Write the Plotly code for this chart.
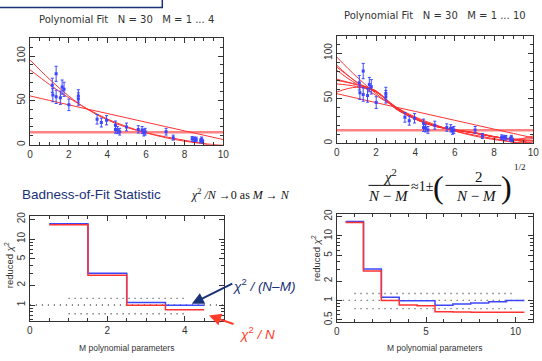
import plotly.graph_objects as go

W, H = 542, 361

# ---------------- data ----------------
x_data = [1.15, 1.18, 1.35, 1.35, 1.57, 1.66, 1.76, 2.01, 2.50, 2.50,
          3.47, 3.69, 3.96, 4.42, 4.42, 4.52, 4.64, 4.99, 5.60, 5.80,
          5.89, 5.96, 7.04, 7.41, 8.39, 8.51, 8.60, 8.83, 8.88, 8.93]
y_data = [67, 56, 80, 54, 53, 65, 62.5, 45, 55, 51.5,
          28.7, 25, 27.6, 22, 17.3, 16.5, 14.7, 20, 17.3, 16.5,
          13.6, 14.7, 14.7, 8, 6.6, 6.2, 6.0, 4.4, 6.2, 3.7]
y_err = [8, 7.5, 8.5, 7.5, 7.5, 8, 8, 6.5, 7, 7,
         5.4, 5, 5.2, 4.7, 4.2, 4, 3.8, 4.4, 4.1, 4, 3.7, 3.8, 3.8, 2.8,
         2.6, 2.5, 2.5, 2.1, 2.5, 1.9]

fit_x = [0, 1, 2, 3, 4, 5, 6, 7, 8, 9, 10]
fits_low = {  # M = 1 ... 4
    1: [14.2, 14.2, 14.2, 14.2, 14.2, 14.2, 14.2, 14.2, 14.2, 14.2, 14.2],
    2: [55, 50, 45, 40, 35.2, 30.3, 25.4, 20.5, 15.6, 10.7, 5.8],
    3: [84.5, 68, 53, 40, 29, 20.5, 13.5, 8, 4, 1.2, -0.5],
    4: [95.6, 74, 55, 39.5, 28, 19.5, 13.5, 9, 5, 1, -4],
}
fits_high = {  # M = 5 ... 10
    5: [86.6, 68, 57, 40, 27, 19, 14.5, 11, 7, 3.5, -1],
    6: [81, 66, 57, 40.5, 27, 18.5, 15, 11.5, 7, 4, 2],
    7: [71, 65, 58, 39, 27, 19, 15, 11.5, 7, 4.5, 5],
    8: [69.7, 65, 58, 38, 27, 19, 14.5, 12, 7.5, 4, 8],
    9: [65.7, 63, 57, 38.5, 27, 19, 14.5, 11.5, 7, 4.5, 3],
    10: [56.7, 62, 57, 39, 26.5, 19.5, 14.5, 11.5, 7.2, 4, 0],
}

M_left = [1, 2, 3, 4]
chi2_nm_left = [17.1, 3.04, 1.095, 0.99]
chi2_n_left = [16.5, 2.82, 0.99, 0.85]

M_right = [1, 2, 3, 4, 5, 6, 7, 8, 9, 10]
chi2_nm_right = [16.8, 3.08, 1.12, 0.99, 0.99, 0.84, 0.88, 0.91, 0.95, 1.0]
chi2_n_right = [16.2, 2.85, 1.0, 0.85, 0.83, 0.67, 0.66, 0.655, 0.655, 0.655]

band_left = {"x": [1, 4], "hi": 1.26, "lo": 0.74}
band_right = {"x": [1, 10], "hi": 1.28, "lo": 0.745}

RED = "rgb(255,50,50)"
BLUE = "rgb(60,70,255)"
NAVY = "rgb(25,50,120)"
AX = "#333333"
NB = "\u00a0"


def px(x):
    return x / W


def py(y):
    return 1 - y / H


fig = go.Figure()

# ---------------- top plots ----------------
for xa, ya, fitsets in [("x", "y", [fits_low]), ("x2", "y2", [fits_low, fits_high])]:
    for fs in fitsets:
        for m, vals in fs.items():
            if m == 1:
                line = dict(color="rgba(255,90,90,0.75)", width=2.5)
            else:
                line = dict(color=RED, width=1, shape="spline")
            fig.add_trace(go.Scatter(x=fit_x, y=vals, mode="lines", line=line,
                                     xaxis=xa, yaxis=ya, showlegend=False,
                                     hoverinfo="skip"))
    fig.add_trace(go.Scatter(x=x_data, y=y_data, mode="markers",
                             marker=dict(color=BLUE, size=3, symbol="square"),
                             error_y=dict(type="data", array=y_err, color=BLUE,
                                          thickness=1, width=1.5),
                             xaxis=xa, yaxis=ya, showlegend=False))

# ---------------- bottom plots ----------------
for xa, ya, M, nm, n, band, xmax in [
        ("x3", "y3", M_left, chi2_nm_left, chi2_n_left, band_left, 5),
        ("x4", "y4", M_right, chi2_nm_right, chi2_n_right, band_right, 11)]:
    for yv, xr in [(1.0, [0, xmax]), (band["hi"], band["x"]), (band["lo"], band["x"])]:
        fig.add_trace(go.Scatter(x=xr, y=[yv, yv], mode="lines",
                                 line=dict(color="#444444", width=1.4, dash="1px,5px"),
                                 xaxis=xa, yaxis=ya, showlegend=False, hoverinfo="skip"))
    xs = [M[0] - 0.5] + M + [M[-1] + 0.5]
    for vals, col in [(nm, BLUE), (n, RED)]:
        ys = [vals[0]] + vals + [vals[-1]]
        fig.add_trace(go.Scatter(x=xs, y=ys, mode="lines",
                                 line=dict(color=col, width=1.5, shape="hvh"),
                                 xaxis=xa, yaxis=ya, showlegend=False))

base = dict(showline=True, linecolor=AX, linewidth=1, mirror="allticks",
            ticks="inside", ticklen=5, tickcolor=AX, showgrid=False,
            zeroline=False, tickfont=dict(family="Liberation Sans", size=10, color=AX))

dom_tl_x = [px(27.5), px(224)]
dom_tl_y = [py(143.3), py(33.7)]
dom_tr_x = [px(339.3), px(539.3)]
dom_tr_y = [py(141.7), py(31.7)]
dom_bl_x = [px(27.3), px(224.3)]
dom_bl_y = [py(324.3), py(216.7)]
dom_br_x = [px(339.3), px(539.3)]
dom_br_y = [py(324.8), py(214)]

minor_x = dict(ticks="inside", ticklen=3, tickcolor=AX, dtick=0.5, showgrid=False)
minor_y = dict(ticks="inside", ticklen=3, tickcolor=AX, dtick=10, showgrid=False)

log_minor = [0.6, 0.7, 0.8, 0.9, 3, 4, 6, 7, 8, 9]

fig.update_layout(
    width=W, height=H, margin=dict(l=0, r=0, t=0, b=0),
    paper_bgcolor="white", plot_bgcolor="white",
    xaxis=dict(base, domain=dom_tl_x, range=[0, 10], tickvals=[0, 2, 4, 6, 8, 10],
               minor=minor_x, anchor="y"),
    yaxis=dict(base, domain=dom_tl_y, range=[0, 120.5], tickvals=[0, 50, 100],
               tickangle=-90, minor=minor_y, anchor="x"),
    xaxis2=dict(base, domain=dom_tr_x, range=[0, 10], tickvals=[0, 2, 4, 6, 8, 10],
                minor=minor_x, anchor="y2"),
    yaxis2=dict(base, domain=dom_tr_y, range=[0, 119], tickvals=[0, 50, 100],
                tickangle=-90, minor=minor_y, anchor="x2"),
    xaxis3=dict(base, domain=dom_bl_x, range=[0, 5], tickvals=[0, 2, 4],
                minor=dict(minor_x, dtick=0.5), anchor="y3"),
    yaxis3=dict(base, domain=dom_bl_y, type="log", range=[-0.245, 1.344],
                tickvals=[1, 2, 5, 10, 20], ticktext=["1", "2", "5", "10", "20"],
                tickangle=-90, anchor="x3",
                minor=dict(ticks="inside", ticklen=3, tickcolor=AX, tickvals=log_minor,
                           showgrid=False)),
    xaxis4=dict(base, domain=dom_br_x, range=[0, 11], tickvals=[0, 5, 10],
                minor=dict(minor_x, dtick=1), anchor="y4"),
    yaxis4=dict(base, domain=dom_br_y, type="log", range=[-0.33, 1.345],
                tickvals=[0.5, 1, 2, 5, 10, 20],
                ticktext=["0.5", "1", "2", "5", "10", "20"],
                tickangle=-90, anchor="x4",
                minor=dict(ticks="inside", ticklen=3, tickcolor=AX, tickvals=log_minor,
                           showgrid=False)),
)

anns = []


def txt(x, y, s, size=10, color=AX, family="Liberation Sans", angle=0, xanchor="center"):
    anns.append(dict(x=px(x), y=py(y), xref="paper", yref="paper", text=s,
                     showarrow=False, xanchor=xanchor, yanchor="middle",
                     textangle=angle, font=dict(family=family, size=size, color=color)))


def sp(s):
    return s.replace(" ", NB)


txt(125.5, 15, sp("Polynomial Fit   N = 30   M = 1 ... 4"), size=10, family="DejaVu Sans")
txt(439, 10.7, sp("Polynomial Fit   N = 30   M = 1 ... 10"), size=10, family="DejaVu Sans")
txt(126, 352, "M polynomial parameters", size=8.5)
txt(439, 352, "M polynomial parameters", size=8.5)
txt(6, 267, "reduced <i>χ</i><sup>2</sup>", size=9.5, angle=-90)
txt(318, 260, "reduced <i>χ</i><sup>2</sup>", size=9.5, angle=-90)

txt(90, 194, "Badness-of-Fit Statistic", size=13.5, color=NAVY)
SERIF = "Liberation Serif"
INK = "#111111"
txt(242, 194, "<i>χ</i><sup>2</sup><i> /N</i> →0 as <i>M</i> → <i>N</i>", size=12,
    color=INK, family=SERIF)

# formula  chi^2/(N-M) ~ 1 +- (2/(N-M))^(1/2)
txt(393.5, 175, "<i>χ</i><sup>2</sup>", size=15, color=INK, family=SERIF)
txt(392.5, 195.5, "<i>N</i> − <i>M</i>", size=15, color=INK, family=SERIF)
txt(426.5, 186, "≈1±", size=14, color=INK, family=SERIF)
txt(443, 186.5, "(", size=32, color=INK, family=SERIF)
txt(484, 176, "2", size=15, color=INK, family=SERIF)
txt(481.7, 195.5, "<i>N</i> − <i>M</i>", size=15, color=INK, family=SERIF)
txt(511.7, 186.5, ")", size=32, color=INK, family=SERIF)
txt(518, 166, "1/2", size=9, color=INK, family=SERIF, xanchor="left")

# arrow labels
txt(265.5, 287, "<i>χ</i><sup>2</sup><i> / (N–M)</i>", size=13.5, color=NAVY)
txt(258.5, 336, "<i>χ</i><sup>2</sup><i> / N</i>", size=13.5, color="rgb(255,60,40)")

# arrows
anns.append(dict(x=px(192), y=py(306.5), xref="paper", yref="paper", showarrow=True,
                 ax=42, ay=-21, axref="pixel", ayref="pixel", text="",
                 arrowhead=2, arrowsize=1.2, arrowwidth=2, arrowcolor=NAVY))
anns.append(dict(x=px(209.5), y=py(318.5), xref="paper", yref="paper", showarrow=True,
                 ax=26, ay=9, axref="pixel", ayref="pixel", text="",
                 arrowhead=2, arrowsize=1.2, arrowwidth=2, arrowcolor="rgb(255,60,40)"))

fig.update_layout(annotations=anns)

shapes = [
    dict(type="rect", xref="paper", yref="paper", x0=-0.01, x1=px(162), y0=py(2.5),
         y1=1.02, line=dict(color=NAVY, width=1.5)),
    dict(type="line", xref="paper", yref="paper", x0=px(371.7), x1=px(413.3),
         y0=py(185), y1=py(185), line=dict(color=INK, width=1)),
    dict(type="line", xref="paper", yref="paper", x0=px(450), x1=px(506.7),
         y0=py(185), y1=py(185), line=dict(color=INK, width=1)),
]
fig.update_layout(shapes=shapes)

fig.write_html("out.html", config={"staticPlot": True, "displayModeBar": False},
               post_script="document.body.style.margin='0';document.body.style.padding='0';")
